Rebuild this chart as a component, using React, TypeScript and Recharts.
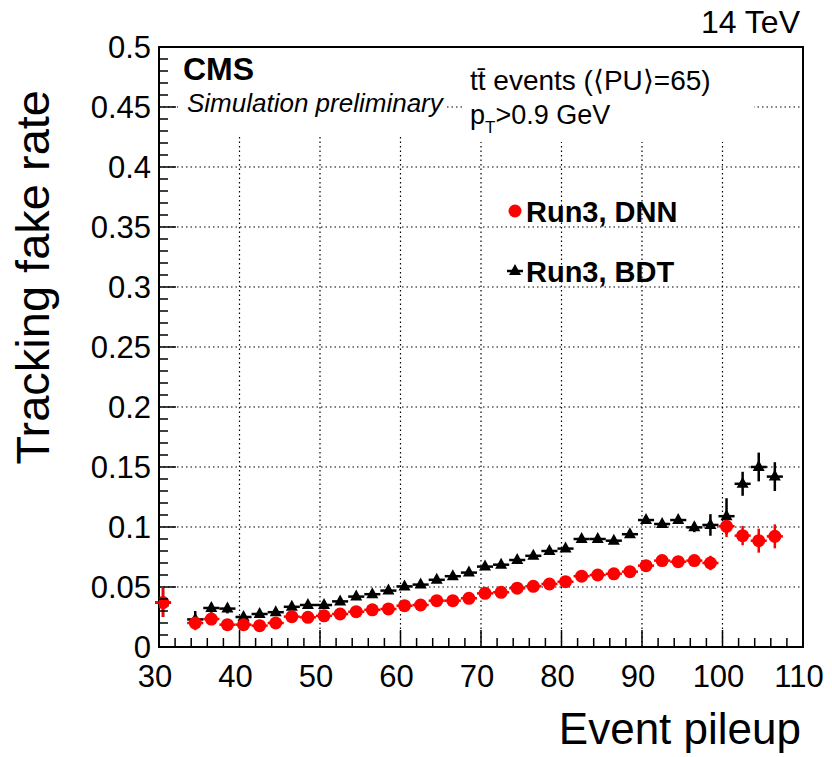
import React from "react";
import {
  CartesianGrid,
  ErrorBar,
  ReferenceArea,
  Scatter,
  ScatterChart,
  XAxis,
  YAxis,
} from "recharts";

// event pileup bin centres
const pileup = [
  30.5, 34.5, 36.5, 38.5, 40.5, 42.5, 44.5, 46.5, 48.5, 50.5, 52.5, 54.5, 56.5,
  58.5, 60.5, 62.5, 64.5, 66.5, 68.5, 70.5, 72.5, 74.5, 76.5, 78.5, 80.5, 82.5,
  84.5, 86.5, 88.5, 90.5, 92.5, 94.5, 96.5, 98.5, 100.5, 102.5, 104.5, 106.5,
];
const binHalfWidth = 1;

const dnnRate = [
  0.037, 0.02, 0.0233, 0.0186, 0.0186, 0.0178, 0.02, 0.0253, 0.0247, 0.026,
  0.0275, 0.0294, 0.031, 0.0317, 0.0344, 0.035, 0.0386, 0.0386, 0.0406, 0.0447,
  0.0456, 0.049, 0.0506, 0.0525, 0.0544, 0.059, 0.06, 0.061, 0.0628, 0.0678,
  0.072, 0.0711, 0.072, 0.07, 0.1006, 0.0928, 0.0886, 0.0922,
];
const dnnErr = [
  0.012, 0.006, 0.004, 0.003, 0.003, 0.003, 0.003, 0.002, 0.002, 0.002, 0.002,
  0.002, 0.002, 0.002, 0.002, 0.002, 0.002, 0.002, 0.002, 0.002, 0.002, 0.002,
  0.002, 0.002, 0.002, 0.002, 0.002, 0.002, 0.003, 0.003, 0.003, 0.003, 0.004,
  0.006, 0.009, 0.008, 0.01, 0.01,
];

const bdtRate = [
  0.037, 0.023, 0.0325, 0.032, 0.025, 0.0275, 0.029, 0.0335, 0.035, 0.035,
  0.038, 0.042, 0.044, 0.047, 0.0505, 0.052, 0.056, 0.059, 0.062, 0.067,
  0.0686, 0.0725, 0.076, 0.08, 0.082, 0.09, 0.09, 0.0886, 0.094, 0.1058,
  0.1025, 0.1058, 0.0997, 0.1017, 0.109, 0.136, 0.15, 0.142,
];
const bdtErr = [
  0.012, 0.007, 0.004, 0.004, 0.003, 0.003, 0.003, 0.002, 0.002, 0.002, 0.002,
  0.002, 0.002, 0.002, 0.002, 0.002, 0.002, 0.002, 0.002, 0.002, 0.002, 0.002,
  0.002, 0.002, 0.002, 0.002, 0.002, 0.002, 0.003, 0.003, 0.003, 0.003, 0.004,
  0.009, 0.015, 0.01, 0.012, 0.012,
];

const xMajor = [30, 40, 50, 60, 70, 80, 90, 100, 110];
const xLabels = ["30", "40", "50", "60", "70", "80", "90", "100", "110"];
const yMajor = [0, 0.05, 0.1, 0.15, 0.2, 0.25, 0.3, 0.35, 0.4, 0.45, 0.5];
const yLabels = ["0", "0.05", "0.1", "0.15", "0.2", "0.25", "0.3", "0.35", "0.4", "0.45", "0.5"];

const FONT = '"Liberation Sans", Arial, sans-serif';
const TICK_MARGIN = 8;

// 5 minor divisions per major interval (ROOT style)
const subdivide = (major: number[]) =>
  major.flatMap((v, i) =>
    i < major.length - 1
      ? [0, 1, 2, 3, 4].map((k) => Math.round((v + (k * (major[i + 1] - v)) / 5) * 10000) / 10000)
      : [v]
  );
const xTicks = subdivide(xMajor);
const yTicks = subdivide(yMajor);

const majorIndex = (v: number, major: number[]) =>
  major.findIndex((m) => Math.abs(m - v) < 1e-6);

const series = [
  { name: "Run3, BDT", color: "#000000", rate: bdtRate, err: bdtErr, marker: "triangle" },
  { name: "Run3, DNN", color: "#ff0000", rate: dnnRate, err: dnnErr, marker: "circle" },
];

function Marker({ cx, cy, kind, color }: { cx: number; cy: number; kind: string; color: string }) {
  if (kind === "circle") return <circle cx={cx} cy={cy} r={6.5} fill={color} />;
  return (
    <path
      d={`M${cx},${cy - 7} L${cx + 6},${cy + 4} L${cx - 6},${cy + 4} Z`}
      fill={color}
    />
  );
}

function YTick(props: any) {
  const { x, y, payload } = props;
  const idx = majorIndex(payload.value, yMajor);
  const left = x + TICK_MARGIN;
  return (
    <g>
      <line x1={left} x2={left + (idx >= 0 ? 17 : 9)} y1={y} y2={y} stroke="#000" strokeWidth={1.5} />
      {idx >= 0 && (
        <text x={x} y={y + 11} textAnchor="end" fontSize={31} fontFamily={FONT} fill="#000">
          {yLabels[idx]}
        </text>
      )}
    </g>
  );
}

function XTick(props: any) {
  const { x, y, payload } = props;
  const idx = majorIndex(payload.value, xMajor);
  const bottom = y - TICK_MARGIN;
  return (
    <g>
      <line x1={x} x2={x} y1={bottom} y2={bottom - (idx >= 0 ? 17 : 9)} stroke="#000" strokeWidth={1.5} />
      {idx >= 0 && (
        <text x={x - 4} y={bottom + 40} textAnchor="middle" fontSize={31} fontFamily={FONT} fill="#000">
          {xLabels[idx]}
        </text>
      )}
    </g>
  );
}

export default function App() {
  return (
    <div style={{ position: "absolute", left: 0, top: 0, width: 832, height: 757, background: "#fff" }}>
      <ScatterChart width={832} height={757} margin={{ top: 47, right: 29, bottom: 0, left: 0 }}>
        <CartesianGrid
          horizontalValues={yMajor}
          verticalValues={xMajor}
          stroke="#000"
          strokeWidth={1.2}
          strokeDasharray="1.5 3"
        />
        <XAxis
          type="number"
          dataKey="x"
          domain={[30, 110]}
          ticks={xTicks}
          interval={0}
          allowDataOverflow
          height={110}
          tickSize={0}
          tickMargin={TICK_MARGIN}
          axisLine={false}
          tick={<XTick />}
          label={({ viewBox }: any) => (
            <text
              x={viewBox.x + viewBox.width - 2}
              y={744}
              textAnchor="end"
              fontSize={44}
              fontFamily={FONT}
              fill="#000"
            >
              Event pileup
            </text>
          )}
        />
        <YAxis
          type="number"
          dataKey="y"
          domain={[0, 0.5]}
          ticks={yTicks}
          interval={0}
          allowDataOverflow
          width={159}
          tickSize={0}
          tickMargin={TICK_MARGIN}
          axisLine={false}
          tick={<YTick />}
          label={({ viewBox }: any) => (
            <text
              transform={`translate(49, ${viewBox.y + 43}) rotate(-90)`}
              textAnchor="end"
              fontSize={47}
              fontFamily={FONT}
              fill="#000"
            >
              Tracking fake rate
            </text>
          )}
        />
        <ReferenceArea x1={30} x2={110} y1={0} y2={0.5} fill="none" stroke="#000" strokeWidth={2} />
        {series.map((s) => (
          <Scatter
            key={s.name}
            name={s.name}
            data={pileup.map((x, i) => ({ x, y: s.rate[i], ex: binHalfWidth, ey: s.err[i] }))}
            isAnimationActive={false}
            shape={(p: any) => <Marker cx={p.cx} cy={p.cy} kind={s.marker} color={s.color} />}
          >
            <ErrorBar dataKey="ex" direction="x" width={0} stroke={s.color} strokeWidth={2.5} />
            <ErrorBar dataKey="ey" direction="y" width={0} stroke={s.color} strokeWidth={2.5} />
          </Scatter>
        ))}
      </ScatterChart>
      <svg
        width={832}
        height={757}
        style={{ position: "absolute", left: 0, top: 0, pointerEvents: "none" }}
        fontFamily={FONT}
      >
        <text x={800} y={33} textAnchor="end" fontSize={32} fill="#000">
          14 TeV
        </text>
        <rect x={178} y={48} width={267} height={86} fill="#fff" />
        <rect x={462} y={48} width={292} height={94} fill="#fff" />
        <text x={183} y={80} fontSize={32} fontWeight="bold" fill="#000">
          CMS
        </text>
        <text x={187} y={112} fontSize={26} fontStyle="italic" fill="#000">
          Simulation preliminary
        </text>
        <text x={470} y={90} fontSize={28} fill="#000">
          tt̄ events (⟨PU⟩=65)
        </text>
        <text x={470} y={124} fontSize={27} fill="#000">
          p<tspan fontSize={17} dy={9}>T</tspan>
          <tspan dy={-9}>&gt;0.9 GeV</tspan>
        </text>
        {[...series].reverse().map((s, i) => (
          <g key={s.name}>
            <Marker cx={515} cy={211 + i * 60} kind={s.marker} color={s.color} />
            {s.marker === "triangle" && (
              <line x1={507} x2={523} y1={211 + i * 60} y2={211 + i * 60} stroke={s.color} strokeWidth={2.5} />
            )}
            <text x={526} y={222 + i * 60} fontSize={29} fontWeight="bold" fill="#000">
              {s.name}
            </text>
          </g>
        ))}
      </svg>
    </div>
  );
}
